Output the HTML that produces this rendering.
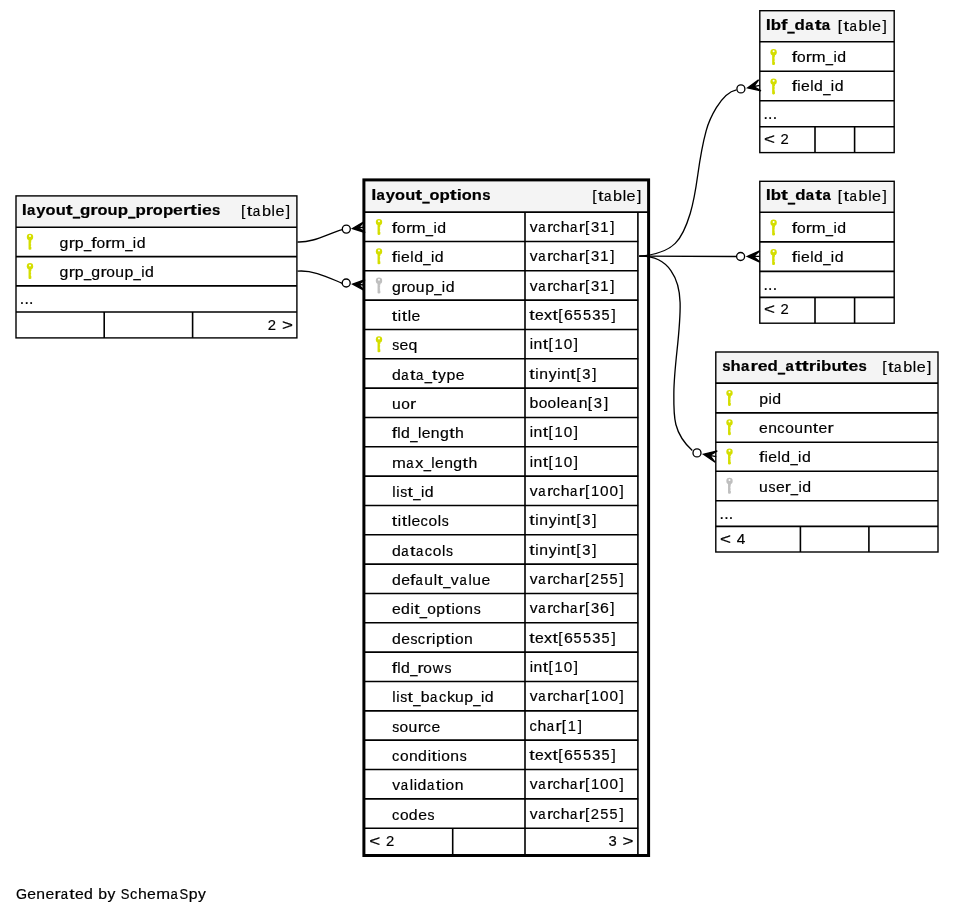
<!DOCTYPE html>
<html><head><meta charset="utf-8"><title>layout_options</title><style>
html,body{margin:0;padding:0;background:#fff;}
svg{display:block;will-change:transform;}
.b text{font-weight:bold;}
text{stroke:#000;stroke-width:0.18px;font-family:"Liberation Sans",sans-serif;font-size:14.9px;fill:#000;}
</style></head><body>
<svg width="954" height="914" viewBox="0 0 954 914">
<rect width="954" height="914" fill="#fff"/>
<rect x="16.00" y="195.90" width="280.90" height="31.30" fill="#f4f4f4" stroke="none" stroke-width="1"/>
<line x1="16.00" y1="227.20" x2="296.90" y2="227.20" stroke="#000" stroke-width="1.6"/>
<line x1="16.00" y1="256.60" x2="296.90" y2="256.60" stroke="#000" stroke-width="1.6"/>
<line x1="16.00" y1="285.90" x2="296.90" y2="285.90" stroke="#000" stroke-width="1.6"/>
<line x1="16.00" y1="312.00" x2="296.90" y2="312.00" stroke="#000" stroke-width="1.6"/>
<line x1="104.20" y1="312.00" x2="104.20" y2="337.90" stroke="#000" stroke-width="1.6"/>
<line x1="192.60" y1="312.00" x2="192.60" y2="337.90" stroke="#000" stroke-width="1.6"/>
<rect x="16.00" y="195.90" width="280.90" height="142.00" fill="none" stroke="#000" stroke-width="1.4"/>
<g class="b"><text transform="matrix(1.238,0,0,1.024,21.78,215.00)">l</text><text transform="matrix(1.008,0,0,1.024,27.00,215.00)">a</text><text transform="matrix(1.113,0,0,1.024,36.19,215.00)">y</text><text transform="matrix(1.097,0,0,1.024,45.57,215.00)">o</text><text transform="matrix(1.106,0,0,1.024,55.64,215.00)">u</text><text transform="matrix(1.392,0,0,1.024,65.78,215.00)">t</text><text transform="matrix(0.845,0,0,2.367,72.88,214.11)">_</text><text transform="matrix(1.134,0,0,1.024,79.96,215.00)">g</text><text transform="matrix(1.281,0,0,1.024,90.32,215.00)">r</text><text transform="matrix(1.097,0,0,1.024,97.49,215.00)">o</text><text transform="matrix(1.106,0,0,1.024,107.56,215.00)">u</text><text transform="matrix(1.132,0,0,1.024,117.87,215.00)">p</text><text transform="matrix(0.845,0,0,2.367,128.25,214.11)">_</text><text transform="matrix(1.132,0,0,1.024,135.47,215.00)">p</text><text transform="matrix(1.281,0,0,1.024,145.69,215.00)">r</text><text transform="matrix(1.097,0,0,1.024,152.86,215.00)">o</text><text transform="matrix(1.132,0,0,1.024,162.93,215.00)">p</text><text transform="matrix(1.181,0,0,1.024,173.12,215.00)">e</text><text transform="matrix(1.281,0,0,1.024,182.97,215.00)">r</text><text transform="matrix(1.392,0,0,1.024,190.09,215.00)">t</text><text transform="matrix(1.238,0,0,1.024,197.00,215.00)">i</text><text transform="matrix(1.181,0,0,1.024,201.97,215.00)">e</text><text transform="matrix(1.004,0,0,1.024,212.08,215.00)">s</text></g>
<g><text transform="matrix(1.045,0,0,1.024,240.93,216.00)">[</text><text transform="matrix(1.341,0,0,1.024,246.69,216.00)">t</text><text transform="matrix(0.902,0,0,1.024,252.78,216.00)">a</text><text transform="matrix(1.092,0,0,1.024,261.92,216.00)">b</text><text transform="matrix(1.026,0,0,1.024,271.48,216.00)">l</text><text transform="matrix(1.084,0,0,1.024,275.39,216.00)">e</text><text transform="matrix(1.045,0,0,1.024,285.78,216.00)">]</text></g>
<g fill="#d4de00"><circle cx="30.00" cy="237.00" r="3.2"/><path d="M28.55,238.80 L31.35,238.80 L31.35,241.40 L30.65,242.10 L31.35,242.80 L30.65,243.50 L31.35,244.20 L30.65,244.90 L31.35,245.60 L30.65,246.30 L31.35,247.00 L31.35,249.20 L30.30,249.80 L29.40,249.80 L28.55,249.20 Z"/><circle cx="30.00" cy="236.10" r="1.0" fill="#fff"/></g>
<g><text transform="matrix(1.065,0,0,1.024,59.44,247.60)">g</text><text transform="matrix(1.255,0,0,1.024,68.65,247.60)">r</text><text transform="matrix(1.066,0,0,1.024,74.87,247.60)">p</text><text transform="matrix(0.874,0,0,1.078,83.89,247.85)">_</text><text transform="matrix(1.287,0,0,1.024,91.20,247.60)">f</text><text transform="matrix(1.042,0,0,1.024,96.43,247.60)">o</text><text transform="matrix(1.255,0,0,1.024,105.29,247.60)">r</text><text transform="matrix(1.116,0,0,1.024,111.18,247.60)">m</text><text transform="matrix(0.874,0,0,1.078,125.23,247.85)">_</text><text transform="matrix(1.002,0,0,1.024,132.86,247.60)">i</text><text transform="matrix(1.065,0,0,1.024,136.67,247.60)">d</text></g>
<g fill="#d4de00"><circle cx="30.00" cy="266.30" r="3.2"/><path d="M28.55,268.10 L31.35,268.10 L31.35,270.70 L30.65,271.40 L31.35,272.10 L30.65,272.80 L31.35,273.50 L30.65,274.20 L31.35,274.90 L30.65,275.60 L31.35,276.30 L31.35,278.50 L30.30,279.10 L29.40,279.10 L28.55,278.50 Z"/><circle cx="30.00" cy="265.40" r="1.0" fill="#fff"/></g>
<g><text transform="matrix(1.065,0,0,1.024,59.44,276.80)">g</text><text transform="matrix(1.255,0,0,1.024,68.65,276.80)">r</text><text transform="matrix(1.066,0,0,1.024,74.87,276.80)">p</text><text transform="matrix(0.874,0,0,1.078,83.89,277.05)">_</text><text transform="matrix(1.065,0,0,1.024,91.28,276.80)">g</text><text transform="matrix(1.255,0,0,1.024,100.49,276.80)">r</text><text transform="matrix(1.042,0,0,1.024,106.24,276.80)">o</text><text transform="matrix(1.056,0,0,1.024,115.24,276.80)">u</text><text transform="matrix(1.066,0,0,1.024,124.58,276.80)">p</text><text transform="matrix(0.874,0,0,1.078,133.59,277.05)">_</text><text transform="matrix(1.002,0,0,1.024,141.22,276.80)">i</text><text transform="matrix(1.065,0,0,1.024,145.04,276.80)">d</text></g>
<g><text transform="matrix(1.060,0,0,1.136,19.76,304.00)">.</text><text transform="matrix(1.060,0,0,1.136,24.40,304.00)">.</text><text transform="matrix(1.060,0,0,1.136,29.04,304.00)">.</text></g>
<g><text transform="matrix(0.996,0,0,1.039,267.71,329.70)">2</text><text transform="matrix(1.263,0,0,1.024,281.93,329.70)">&gt;</text></g>
<rect x="363.90" y="179.90" width="284.70" height="32.20" fill="#f4f4f4" stroke="none" stroke-width="1"/>
<line x1="363.90" y1="212.10" x2="648.60" y2="212.10" stroke="#000" stroke-width="1.6"/>
<line x1="363.90" y1="241.44" x2="638.20" y2="241.44" stroke="#000" stroke-width="1.6"/>
<line x1="363.90" y1="270.77" x2="638.20" y2="270.77" stroke="#000" stroke-width="1.6"/>
<line x1="363.90" y1="300.11" x2="638.20" y2="300.11" stroke="#000" stroke-width="1.6"/>
<line x1="363.90" y1="329.45" x2="638.20" y2="329.45" stroke="#000" stroke-width="1.6"/>
<line x1="363.90" y1="358.78" x2="638.20" y2="358.78" stroke="#000" stroke-width="1.6"/>
<line x1="363.90" y1="388.12" x2="638.20" y2="388.12" stroke="#000" stroke-width="1.6"/>
<line x1="363.90" y1="417.46" x2="638.20" y2="417.46" stroke="#000" stroke-width="1.6"/>
<line x1="363.90" y1="446.80" x2="638.20" y2="446.80" stroke="#000" stroke-width="1.6"/>
<line x1="363.90" y1="476.13" x2="638.20" y2="476.13" stroke="#000" stroke-width="1.6"/>
<line x1="363.90" y1="505.47" x2="638.20" y2="505.47" stroke="#000" stroke-width="1.6"/>
<line x1="363.90" y1="534.81" x2="638.20" y2="534.81" stroke="#000" stroke-width="1.6"/>
<line x1="363.90" y1="564.14" x2="638.20" y2="564.14" stroke="#000" stroke-width="1.6"/>
<line x1="363.90" y1="593.48" x2="638.20" y2="593.48" stroke="#000" stroke-width="1.6"/>
<line x1="363.90" y1="622.82" x2="638.20" y2="622.82" stroke="#000" stroke-width="1.6"/>
<line x1="363.90" y1="652.15" x2="638.20" y2="652.15" stroke="#000" stroke-width="1.6"/>
<line x1="363.90" y1="681.49" x2="638.20" y2="681.49" stroke="#000" stroke-width="1.6"/>
<line x1="363.90" y1="710.83" x2="638.20" y2="710.83" stroke="#000" stroke-width="1.6"/>
<line x1="363.90" y1="740.17" x2="638.20" y2="740.17" stroke="#000" stroke-width="1.6"/>
<line x1="363.90" y1="769.50" x2="638.20" y2="769.50" stroke="#000" stroke-width="1.6"/>
<line x1="363.90" y1="798.84" x2="638.20" y2="798.84" stroke="#000" stroke-width="1.6"/>
<line x1="363.90" y1="828.18" x2="638.20" y2="828.18" stroke="#000" stroke-width="1.6"/>
<line x1="525.00" y1="212.10" x2="525.00" y2="855.50" stroke="#000" stroke-width="1.6"/>
<line x1="452.70" y1="828.18" x2="452.70" y2="855.50" stroke="#000" stroke-width="1.6"/>
<line x1="637.90" y1="212.10" x2="637.90" y2="855.50" stroke="#000" stroke-width="1.6"/>
<rect x="363.90" y="179.90" width="284.70" height="675.60" fill="none" stroke="#000" stroke-width="3.0"/>
<g class="b"><text transform="matrix(1.238,0,0,1.024,371.31,200.00)">l</text><text transform="matrix(1.008,0,0,1.024,376.53,200.00)">a</text><text transform="matrix(1.113,0,0,1.024,385.72,200.00)">y</text><text transform="matrix(1.097,0,0,1.024,395.10,200.00)">o</text><text transform="matrix(1.106,0,0,1.024,405.17,200.00)">u</text><text transform="matrix(1.392,0,0,1.024,415.31,200.00)">t</text><text transform="matrix(0.845,0,0,2.367,422.41,199.11)">_</text><text transform="matrix(1.097,0,0,1.024,429.51,200.00)">o</text><text transform="matrix(1.132,0,0,1.024,439.58,200.00)">p</text><text transform="matrix(1.392,0,0,1.024,449.78,200.00)">t</text><text transform="matrix(1.238,0,0,1.024,456.69,200.00)">i</text><text transform="matrix(1.097,0,0,1.024,461.71,200.00)">o</text><text transform="matrix(1.106,0,0,1.024,471.81,200.00)">n</text><text transform="matrix(1.004,0,0,1.024,482.21,200.00)">s</text></g>
<g><text transform="matrix(1.045,0,0,1.024,592.13,201.20)">[</text><text transform="matrix(1.341,0,0,1.024,597.89,201.20)">t</text><text transform="matrix(0.902,0,0,1.024,603.98,201.20)">a</text><text transform="matrix(1.092,0,0,1.024,613.12,201.20)">b</text><text transform="matrix(1.026,0,0,1.024,622.68,201.20)">l</text><text transform="matrix(1.084,0,0,1.024,626.59,201.20)">e</text><text transform="matrix(1.045,0,0,1.024,636.98,201.20)">]</text></g>
<g fill="#d4de00"><circle cx="379.00" cy="222.10" r="3.2"/><path d="M377.55,223.90 L380.35,223.90 L380.35,226.50 L379.65,227.20 L380.35,227.90 L379.65,228.60 L380.35,229.30 L379.65,230.00 L380.35,230.70 L379.65,231.40 L380.35,232.10 L380.35,234.30 L379.30,234.90 L378.40,234.90 L377.55,234.30 Z"/><circle cx="379.00" cy="221.20" r="1.0" fill="#fff"/></g>
<g><text transform="matrix(1.287,0,0,1.024,391.83,232.90)">f</text><text transform="matrix(1.042,0,0,1.024,397.06,232.90)">o</text><text transform="matrix(1.255,0,0,1.024,405.93,232.90)">r</text><text transform="matrix(1.116,0,0,1.024,411.81,232.90)">m</text><text transform="matrix(0.874,0,0,1.078,425.87,233.15)">_</text><text transform="matrix(1.002,0,0,1.024,433.49,232.90)">i</text><text transform="matrix(1.065,0,0,1.024,437.31,232.90)">d</text></g>
<g><text transform="matrix(1.057,0,0,1.024,529.63,231.90)">v</text><text transform="matrix(0.881,0,0,1.024,538.21,231.90)">a</text><text transform="matrix(1.255,0,0,1.024,546.92,231.90)">r</text><text transform="matrix(0.983,0,0,1.024,552.70,231.90)">c</text><text transform="matrix(1.064,0,0,1.024,560.77,231.90)">h</text><text transform="matrix(0.881,0,0,1.024,570.12,231.90)">a</text><text transform="matrix(1.255,0,0,1.024,578.83,231.90)">r</text><text transform="matrix(1.021,0,0,1.024,584.92,231.90)">[</text><text transform="matrix(0.992,0,0,1.039,590.99,231.90)">3</text><text transform="matrix(0.987,0,0,1.039,600.22,231.90)">1</text><text transform="matrix(1.021,0,0,1.024,610.32,231.90)">]</text></g>
<g fill="#d4de00"><circle cx="379.00" cy="251.44" r="3.2"/><path d="M377.55,253.24 L380.35,253.24 L380.35,255.84 L379.65,256.54 L380.35,257.24 L379.65,257.94 L380.35,258.64 L379.65,259.34 L380.35,260.04 L379.65,260.74 L380.35,261.44 L380.35,263.64 L379.30,264.24 L378.40,264.24 L377.55,263.64 Z"/><circle cx="379.00" cy="250.54" r="1.0" fill="#fff"/></g>
<g><text transform="matrix(1.287,0,0,1.024,391.83,262.24)">f</text><text transform="matrix(1.002,0,0,1.024,397.29,262.24)">i</text><text transform="matrix(1.058,0,0,1.024,401.10,262.24)">e</text><text transform="matrix(1.002,0,0,1.024,410.32,262.24)">l</text><text transform="matrix(1.065,0,0,1.024,414.14,262.24)">d</text><text transform="matrix(0.874,0,0,1.078,423.33,262.49)">_</text><text transform="matrix(1.002,0,0,1.024,430.95,262.24)">i</text><text transform="matrix(1.065,0,0,1.024,434.77,262.24)">d</text></g>
<g><text transform="matrix(1.057,0,0,1.024,529.63,261.24)">v</text><text transform="matrix(0.881,0,0,1.024,538.21,261.24)">a</text><text transform="matrix(1.255,0,0,1.024,546.92,261.24)">r</text><text transform="matrix(0.983,0,0,1.024,552.70,261.24)">c</text><text transform="matrix(1.064,0,0,1.024,560.77,261.24)">h</text><text transform="matrix(0.881,0,0,1.024,570.12,261.24)">a</text><text transform="matrix(1.255,0,0,1.024,578.83,261.24)">r</text><text transform="matrix(1.021,0,0,1.024,584.92,261.24)">[</text><text transform="matrix(0.992,0,0,1.039,590.99,261.24)">3</text><text transform="matrix(0.987,0,0,1.039,600.22,261.24)">1</text><text transform="matrix(1.021,0,0,1.024,610.32,261.24)">]</text></g>
<g fill="#bfbfbf"><circle cx="379.00" cy="280.77" r="3.2"/><path d="M377.55,282.57 L380.35,282.57 L380.35,285.17 L379.65,285.87 L380.35,286.57 L379.65,287.27 L380.35,287.97 L379.65,288.67 L380.35,289.37 L379.65,290.07 L380.35,290.77 L380.35,292.97 L379.30,293.57 L378.40,293.57 L377.55,292.97 Z"/><circle cx="379.00" cy="279.87" r="1.0" fill="#fff"/></g>
<g><text transform="matrix(1.065,0,0,1.024,391.91,291.57)">g</text><text transform="matrix(1.255,0,0,1.024,401.12,291.57)">r</text><text transform="matrix(1.042,0,0,1.024,406.87,291.57)">o</text><text transform="matrix(1.056,0,0,1.024,415.87,291.57)">u</text><text transform="matrix(1.066,0,0,1.024,425.21,291.57)">p</text><text transform="matrix(0.874,0,0,1.078,434.23,291.83)">_</text><text transform="matrix(1.002,0,0,1.024,441.85,291.57)">i</text><text transform="matrix(1.065,0,0,1.024,445.67,291.57)">d</text></g>
<g><text transform="matrix(1.057,0,0,1.024,529.63,290.57)">v</text><text transform="matrix(0.881,0,0,1.024,538.21,290.57)">a</text><text transform="matrix(1.255,0,0,1.024,546.92,290.57)">r</text><text transform="matrix(0.983,0,0,1.024,552.70,290.57)">c</text><text transform="matrix(1.064,0,0,1.024,560.77,290.57)">h</text><text transform="matrix(0.881,0,0,1.024,570.12,290.57)">a</text><text transform="matrix(1.255,0,0,1.024,578.83,290.57)">r</text><text transform="matrix(1.021,0,0,1.024,584.92,290.57)">[</text><text transform="matrix(0.992,0,0,1.039,590.99,290.57)">3</text><text transform="matrix(0.987,0,0,1.039,600.22,290.57)">1</text><text transform="matrix(1.021,0,0,1.024,610.32,290.57)">]</text></g>
<g><text transform="matrix(1.310,0,0,1.024,391.87,320.91)">t</text><text transform="matrix(1.002,0,0,1.024,397.87,320.91)">i</text><text transform="matrix(1.310,0,0,1.024,401.65,320.91)">t</text><text transform="matrix(1.002,0,0,1.024,407.65,320.91)">l</text><text transform="matrix(1.058,0,0,1.024,411.47,320.91)">e</text></g>
<g><text transform="matrix(1.310,0,0,1.024,529.35,319.91)">t</text><text transform="matrix(1.058,0,0,1.024,535.11,319.91)">e</text><text transform="matrix(1.087,0,0,1.024,543.94,319.91)">x</text><text transform="matrix(1.310,0,0,1.024,552.44,319.91)">t</text><text transform="matrix(1.021,0,0,1.024,558.24,319.91)">[</text><text transform="matrix(1.069,0,0,1.039,563.97,319.91)">6</text><text transform="matrix(0.975,0,0,1.039,573.59,319.91)">5</text><text transform="matrix(0.975,0,0,1.039,582.88,319.91)">5</text><text transform="matrix(0.992,0,0,1.039,592.18,319.91)">3</text><text transform="matrix(0.975,0,0,1.039,601.46,319.91)">5</text><text transform="matrix(1.021,0,0,1.024,611.51,319.91)">]</text></g>
<g fill="#d4de00"><circle cx="379.00" cy="339.45" r="3.2"/><path d="M377.55,341.25 L380.35,341.25 L380.35,343.85 L379.65,344.55 L380.35,345.25 L379.65,345.95 L380.35,346.65 L379.65,347.35 L380.35,348.05 L379.65,348.75 L380.35,349.45 L380.35,351.65 L379.30,352.25 L378.40,352.25 L377.55,351.65 Z"/><circle cx="379.00" cy="338.55" r="1.0" fill="#fff"/></g>
<g><text transform="matrix(0.939,0,0,1.024,392.17,350.25)">s</text><text transform="matrix(1.058,0,0,1.024,399.51,350.25)">e</text><text transform="matrix(1.064,0,0,1.024,408.50,350.25)">q</text></g>
<g><text transform="matrix(1.002,0,0,1.024,529.63,349.25)">i</text><text transform="matrix(1.056,0,0,1.024,533.59,349.25)">n</text><text transform="matrix(1.310,0,0,1.024,542.66,349.25)">t</text><text transform="matrix(1.021,0,0,1.024,548.45,349.25)">[</text><text transform="matrix(0.987,0,0,1.039,554.46,349.25)">1</text><text transform="matrix(1.033,0,0,1.039,563.63,349.25)">0</text><text transform="matrix(1.021,0,0,1.024,573.86,349.25)">]</text></g>
<g><text transform="matrix(1.065,0,0,1.024,391.91,379.58)">d</text><text transform="matrix(0.881,0,0,1.024,401.36,379.58)">a</text><text transform="matrix(1.310,0,0,1.024,410.08,379.58)">t</text><text transform="matrix(0.881,0,0,1.024,416.03,379.58)">a</text><text transform="matrix(0.874,0,0,1.078,424.71,379.84)">_</text><text transform="matrix(1.310,0,0,1.024,432.05,379.58)">t</text><text transform="matrix(1.052,0,0,1.024,438.08,379.58)">y</text><text transform="matrix(1.066,0,0,1.024,446.62,379.58)">p</text><text transform="matrix(1.058,0,0,1.024,455.72,379.58)">e</text></g>
<g><text transform="matrix(1.310,0,0,1.024,529.35,378.58)">t</text><text transform="matrix(1.002,0,0,1.024,535.35,378.58)">i</text><text transform="matrix(1.056,0,0,1.024,539.31,378.58)">n</text><text transform="matrix(1.052,0,0,1.024,548.68,378.58)">y</text><text transform="matrix(1.002,0,0,1.024,557.30,378.58)">i</text><text transform="matrix(1.056,0,0,1.024,561.26,378.58)">n</text><text transform="matrix(1.310,0,0,1.024,570.33,378.58)">t</text><text transform="matrix(1.021,0,0,1.024,576.13,378.58)">[</text><text transform="matrix(0.992,0,0,1.039,582.20,378.58)">3</text><text transform="matrix(1.021,0,0,1.024,592.24,378.58)">]</text></g>
<g><text transform="matrix(1.056,0,0,1.024,391.99,408.92)">u</text><text transform="matrix(1.042,0,0,1.024,401.18,408.92)">o</text><text transform="matrix(1.255,0,0,1.024,410.04,408.92)">r</text></g>
<g><text transform="matrix(1.066,0,0,1.024,529.55,407.92)">b</text><text transform="matrix(1.042,0,0,1.024,538.67,407.92)">o</text><text transform="matrix(1.042,0,0,1.024,547.60,407.92)">o</text><text transform="matrix(1.002,0,0,1.024,556.75,407.92)">l</text><text transform="matrix(1.058,0,0,1.024,560.57,407.92)">e</text><text transform="matrix(0.881,0,0,1.024,569.74,407.92)">a</text><text transform="matrix(1.056,0,0,1.024,578.65,407.92)">n</text><text transform="matrix(1.021,0,0,1.024,587.79,407.92)">[</text><text transform="matrix(0.992,0,0,1.039,593.87,407.92)">3</text><text transform="matrix(1.021,0,0,1.024,603.91,407.92)">]</text></g>
<g><text transform="matrix(1.287,0,0,1.024,391.83,438.26)">f</text><text transform="matrix(1.002,0,0,1.024,397.28,438.26)">l</text><text transform="matrix(1.065,0,0,1.024,401.11,438.26)">d</text><text transform="matrix(0.874,0,0,1.078,410.29,438.51)">_</text><text transform="matrix(1.002,0,0,1.024,417.90,438.26)">l</text><text transform="matrix(1.058,0,0,1.024,421.73,438.26)">e</text><text transform="matrix(1.056,0,0,1.024,430.85,438.26)">n</text><text transform="matrix(1.065,0,0,1.024,439.97,438.26)">g</text><text transform="matrix(1.310,0,0,1.024,449.19,438.26)">t</text><text transform="matrix(1.064,0,0,1.024,455.05,438.26)">h</text></g>
<g><text transform="matrix(1.002,0,0,1.024,529.63,437.26)">i</text><text transform="matrix(1.056,0,0,1.024,533.59,437.26)">n</text><text transform="matrix(1.310,0,0,1.024,542.66,437.26)">t</text><text transform="matrix(1.021,0,0,1.024,548.45,437.26)">[</text><text transform="matrix(0.987,0,0,1.039,554.46,437.26)">1</text><text transform="matrix(1.033,0,0,1.039,563.63,437.26)">0</text><text transform="matrix(1.021,0,0,1.024,573.86,437.26)">]</text></g>
<g><text transform="matrix(1.116,0,0,1.024,391.99,467.60)">m</text><text transform="matrix(0.881,0,0,1.024,406.31,467.60)">a</text><text transform="matrix(1.087,0,0,1.024,415.18,467.60)">x</text><text transform="matrix(0.874,0,0,1.078,423.63,467.85)">_</text><text transform="matrix(1.002,0,0,1.024,431.25,467.60)">l</text><text transform="matrix(1.058,0,0,1.024,435.07,467.60)">e</text><text transform="matrix(1.056,0,0,1.024,444.20,467.60)">n</text><text transform="matrix(1.065,0,0,1.024,453.31,467.60)">g</text><text transform="matrix(1.310,0,0,1.024,462.54,467.60)">t</text><text transform="matrix(1.064,0,0,1.024,468.39,467.60)">h</text></g>
<g><text transform="matrix(1.002,0,0,1.024,529.63,466.60)">i</text><text transform="matrix(1.056,0,0,1.024,533.59,466.60)">n</text><text transform="matrix(1.310,0,0,1.024,542.66,466.60)">t</text><text transform="matrix(1.021,0,0,1.024,548.45,466.60)">[</text><text transform="matrix(0.987,0,0,1.039,554.46,466.60)">1</text><text transform="matrix(1.033,0,0,1.039,563.63,466.60)">0</text><text transform="matrix(1.021,0,0,1.024,573.86,466.60)">]</text></g>
<g><text transform="matrix(1.002,0,0,1.024,392.14,496.93)">l</text><text transform="matrix(1.002,0,0,1.024,396.20,496.93)">i</text><text transform="matrix(0.939,0,0,1.024,400.28,496.93)">s</text><text transform="matrix(1.310,0,0,1.024,407.59,496.93)">t</text><text transform="matrix(0.874,0,0,1.078,413.27,497.18)">_</text><text transform="matrix(1.002,0,0,1.024,420.89,496.93)">i</text><text transform="matrix(1.065,0,0,1.024,424.71,496.93)">d</text></g>
<g><text transform="matrix(1.057,0,0,1.024,529.63,495.93)">v</text><text transform="matrix(0.881,0,0,1.024,538.21,495.93)">a</text><text transform="matrix(1.255,0,0,1.024,546.92,495.93)">r</text><text transform="matrix(0.983,0,0,1.024,552.70,495.93)">c</text><text transform="matrix(1.064,0,0,1.024,560.77,495.93)">h</text><text transform="matrix(0.881,0,0,1.024,570.12,495.93)">a</text><text transform="matrix(1.255,0,0,1.024,578.83,495.93)">r</text><text transform="matrix(1.021,0,0,1.024,584.92,495.93)">[</text><text transform="matrix(0.987,0,0,1.039,590.93,495.93)">1</text><text transform="matrix(1.033,0,0,1.039,600.09,495.93)">0</text><text transform="matrix(1.033,0,0,1.039,609.38,495.93)">0</text><text transform="matrix(1.021,0,0,1.024,619.61,495.93)">]</text></g>
<g><text transform="matrix(1.310,0,0,1.024,391.87,526.27)">t</text><text transform="matrix(1.002,0,0,1.024,397.87,526.27)">i</text><text transform="matrix(1.310,0,0,1.024,401.65,526.27)">t</text><text transform="matrix(1.002,0,0,1.024,407.65,526.27)">l</text><text transform="matrix(1.058,0,0,1.024,411.47,526.27)">e</text><text transform="matrix(0.983,0,0,1.024,420.50,526.27)">c</text><text transform="matrix(1.042,0,0,1.024,428.50,526.27)">o</text><text transform="matrix(1.002,0,0,1.024,437.64,526.27)">l</text><text transform="matrix(0.939,0,0,1.024,441.73,526.27)">s</text></g>
<g><text transform="matrix(1.310,0,0,1.024,529.35,525.27)">t</text><text transform="matrix(1.002,0,0,1.024,535.35,525.27)">i</text><text transform="matrix(1.056,0,0,1.024,539.31,525.27)">n</text><text transform="matrix(1.052,0,0,1.024,548.68,525.27)">y</text><text transform="matrix(1.002,0,0,1.024,557.30,525.27)">i</text><text transform="matrix(1.056,0,0,1.024,561.26,525.27)">n</text><text transform="matrix(1.310,0,0,1.024,570.33,525.27)">t</text><text transform="matrix(1.021,0,0,1.024,576.13,525.27)">[</text><text transform="matrix(0.992,0,0,1.039,582.20,525.27)">3</text><text transform="matrix(1.021,0,0,1.024,592.24,525.27)">]</text></g>
<g><text transform="matrix(1.065,0,0,1.024,391.91,555.61)">d</text><text transform="matrix(0.881,0,0,1.024,401.36,555.61)">a</text><text transform="matrix(1.310,0,0,1.024,410.08,555.61)">t</text><text transform="matrix(0.881,0,0,1.024,416.03,555.61)">a</text><text transform="matrix(0.983,0,0,1.024,424.84,555.61)">c</text><text transform="matrix(1.042,0,0,1.024,432.84,555.61)">o</text><text transform="matrix(1.002,0,0,1.024,441.99,555.61)">l</text><text transform="matrix(0.939,0,0,1.024,446.07,555.61)">s</text></g>
<g><text transform="matrix(1.310,0,0,1.024,529.35,554.61)">t</text><text transform="matrix(1.002,0,0,1.024,535.35,554.61)">i</text><text transform="matrix(1.056,0,0,1.024,539.31,554.61)">n</text><text transform="matrix(1.052,0,0,1.024,548.68,554.61)">y</text><text transform="matrix(1.002,0,0,1.024,557.30,554.61)">i</text><text transform="matrix(1.056,0,0,1.024,561.26,554.61)">n</text><text transform="matrix(1.310,0,0,1.024,570.33,554.61)">t</text><text transform="matrix(1.021,0,0,1.024,576.13,554.61)">[</text><text transform="matrix(0.992,0,0,1.039,582.20,554.61)">3</text><text transform="matrix(1.021,0,0,1.024,592.24,554.61)">]</text></g>
<g><text transform="matrix(1.065,0,0,1.024,391.91,584.94)">d</text><text transform="matrix(1.058,0,0,1.024,401.17,584.94)">e</text><text transform="matrix(1.287,0,0,1.024,410.08,584.94)">f</text><text transform="matrix(0.881,0,0,1.024,415.48,584.94)">a</text><text transform="matrix(1.056,0,0,1.024,424.32,584.94)">u</text><text transform="matrix(1.002,0,0,1.024,433.73,584.94)">l</text><text transform="matrix(1.310,0,0,1.024,437.51,584.94)">t</text><text transform="matrix(0.874,0,0,1.078,443.20,585.20)">_</text><text transform="matrix(1.057,0,0,1.024,450.82,584.94)">v</text><text transform="matrix(0.881,0,0,1.024,459.40,584.94)">a</text><text transform="matrix(1.002,0,0,1.024,468.40,584.94)">l</text><text transform="matrix(1.056,0,0,1.024,472.30,584.94)">u</text><text transform="matrix(1.058,0,0,1.024,481.47,584.94)">e</text></g>
<g><text transform="matrix(1.057,0,0,1.024,529.63,583.94)">v</text><text transform="matrix(0.881,0,0,1.024,538.21,583.94)">a</text><text transform="matrix(1.255,0,0,1.024,546.92,583.94)">r</text><text transform="matrix(0.983,0,0,1.024,552.70,583.94)">c</text><text transform="matrix(1.064,0,0,1.024,560.77,583.94)">h</text><text transform="matrix(0.881,0,0,1.024,570.12,583.94)">a</text><text transform="matrix(1.255,0,0,1.024,578.83,583.94)">r</text><text transform="matrix(1.021,0,0,1.024,584.92,583.94)">[</text><text transform="matrix(0.996,0,0,1.039,590.77,583.94)">2</text><text transform="matrix(0.975,0,0,1.039,600.28,583.94)">5</text><text transform="matrix(0.975,0,0,1.039,609.57,583.94)">5</text><text transform="matrix(1.021,0,0,1.024,619.61,583.94)">]</text></g>
<g><text transform="matrix(1.058,0,0,1.024,391.91,614.28)">e</text><text transform="matrix(1.065,0,0,1.024,400.89,614.28)">d</text><text transform="matrix(1.002,0,0,1.024,410.40,614.28)">i</text><text transform="matrix(1.310,0,0,1.024,414.17,614.28)">t</text><text transform="matrix(0.874,0,0,1.078,419.86,614.53)">_</text><text transform="matrix(1.042,0,0,1.024,427.25,614.28)">o</text><text transform="matrix(1.066,0,0,1.024,436.34,614.28)">p</text><text transform="matrix(1.310,0,0,1.024,445.40,614.28)">t</text><text transform="matrix(1.002,0,0,1.024,451.40,614.28)">i</text><text transform="matrix(1.042,0,0,1.024,455.24,614.28)">o</text><text transform="matrix(1.056,0,0,1.024,464.30,614.28)">n</text><text transform="matrix(0.939,0,0,1.024,473.67,614.28)">s</text></g>
<g><text transform="matrix(1.057,0,0,1.024,529.63,613.28)">v</text><text transform="matrix(0.881,0,0,1.024,538.21,613.28)">a</text><text transform="matrix(1.255,0,0,1.024,546.92,613.28)">r</text><text transform="matrix(0.983,0,0,1.024,552.70,613.28)">c</text><text transform="matrix(1.064,0,0,1.024,560.77,613.28)">h</text><text transform="matrix(0.881,0,0,1.024,570.12,613.28)">a</text><text transform="matrix(1.255,0,0,1.024,578.83,613.28)">r</text><text transform="matrix(1.021,0,0,1.024,584.92,613.28)">[</text><text transform="matrix(0.992,0,0,1.039,590.99,613.28)">3</text><text transform="matrix(1.069,0,0,1.039,599.94,613.28)">6</text><text transform="matrix(1.021,0,0,1.024,610.32,613.28)">]</text></g>
<g><text transform="matrix(1.065,0,0,1.024,391.91,643.62)">d</text><text transform="matrix(1.058,0,0,1.024,401.17,643.62)">e</text><text transform="matrix(0.939,0,0,1.024,410.42,643.62)">s</text><text transform="matrix(0.983,0,0,1.024,417.81,643.62)">c</text><text transform="matrix(1.255,0,0,1.024,425.74,643.62)">r</text><text transform="matrix(1.002,0,0,1.024,432.03,643.62)">i</text><text transform="matrix(1.066,0,0,1.024,436.01,643.62)">p</text><text transform="matrix(1.310,0,0,1.024,445.08,643.62)">t</text><text transform="matrix(1.002,0,0,1.024,451.08,643.62)">i</text><text transform="matrix(1.042,0,0,1.024,454.91,643.62)">o</text><text transform="matrix(1.056,0,0,1.024,463.97,643.62)">n</text></g>
<g><text transform="matrix(1.310,0,0,1.024,529.35,642.62)">t</text><text transform="matrix(1.058,0,0,1.024,535.11,642.62)">e</text><text transform="matrix(1.087,0,0,1.024,543.94,642.62)">x</text><text transform="matrix(1.310,0,0,1.024,552.44,642.62)">t</text><text transform="matrix(1.021,0,0,1.024,558.24,642.62)">[</text><text transform="matrix(1.069,0,0,1.039,563.97,642.62)">6</text><text transform="matrix(0.975,0,0,1.039,573.59,642.62)">5</text><text transform="matrix(0.975,0,0,1.039,582.88,642.62)">5</text><text transform="matrix(0.992,0,0,1.039,592.18,642.62)">3</text><text transform="matrix(0.975,0,0,1.039,601.46,642.62)">5</text><text transform="matrix(1.021,0,0,1.024,611.51,642.62)">]</text></g>
<g><text transform="matrix(1.287,0,0,1.024,391.83,672.95)">f</text><text transform="matrix(1.002,0,0,1.024,397.28,672.95)">l</text><text transform="matrix(1.065,0,0,1.024,401.11,672.95)">d</text><text transform="matrix(0.874,0,0,1.078,410.29,673.21)">_</text><text transform="matrix(1.255,0,0,1.024,417.62,672.95)">r</text><text transform="matrix(1.042,0,0,1.024,423.37,672.95)">o</text><text transform="matrix(0.990,0,0,1.024,432.78,672.95)">w</text><text transform="matrix(0.939,0,0,1.024,444.49,672.95)">s</text></g>
<g><text transform="matrix(1.002,0,0,1.024,529.63,671.95)">i</text><text transform="matrix(1.056,0,0,1.024,533.59,671.95)">n</text><text transform="matrix(1.310,0,0,1.024,542.66,671.95)">t</text><text transform="matrix(1.021,0,0,1.024,548.45,671.95)">[</text><text transform="matrix(0.987,0,0,1.039,554.46,671.95)">1</text><text transform="matrix(1.033,0,0,1.039,563.63,671.95)">0</text><text transform="matrix(1.021,0,0,1.024,573.86,671.95)">]</text></g>
<g><text transform="matrix(1.002,0,0,1.024,392.14,702.29)">l</text><text transform="matrix(1.002,0,0,1.024,396.20,702.29)">i</text><text transform="matrix(0.939,0,0,1.024,400.28,702.29)">s</text><text transform="matrix(1.310,0,0,1.024,407.59,702.29)">t</text><text transform="matrix(0.874,0,0,1.078,413.27,702.54)">_</text><text transform="matrix(1.066,0,0,1.024,420.82,702.29)">b</text><text transform="matrix(0.881,0,0,1.024,430.10,702.29)">a</text><text transform="matrix(0.983,0,0,1.024,438.91,702.29)">c</text><text transform="matrix(1.096,0,0,1.024,446.98,702.29)">k</text><text transform="matrix(1.056,0,0,1.024,454.98,702.29)">u</text><text transform="matrix(1.066,0,0,1.024,464.32,702.29)">p</text><text transform="matrix(0.874,0,0,1.078,473.34,702.54)">_</text><text transform="matrix(1.002,0,0,1.024,480.96,702.29)">i</text><text transform="matrix(1.065,0,0,1.024,484.78,702.29)">d</text></g>
<g><text transform="matrix(1.057,0,0,1.024,529.63,701.29)">v</text><text transform="matrix(0.881,0,0,1.024,538.21,701.29)">a</text><text transform="matrix(1.255,0,0,1.024,546.92,701.29)">r</text><text transform="matrix(0.983,0,0,1.024,552.70,701.29)">c</text><text transform="matrix(1.064,0,0,1.024,560.77,701.29)">h</text><text transform="matrix(0.881,0,0,1.024,570.12,701.29)">a</text><text transform="matrix(1.255,0,0,1.024,578.83,701.29)">r</text><text transform="matrix(1.021,0,0,1.024,584.92,701.29)">[</text><text transform="matrix(0.987,0,0,1.039,590.93,701.29)">1</text><text transform="matrix(1.033,0,0,1.039,600.09,701.29)">0</text><text transform="matrix(1.033,0,0,1.039,609.38,701.29)">0</text><text transform="matrix(1.021,0,0,1.024,619.61,701.29)">]</text></g>
<g><text transform="matrix(0.939,0,0,1.024,392.17,731.63)">s</text><text transform="matrix(1.042,0,0,1.024,399.53,731.63)">o</text><text transform="matrix(1.056,0,0,1.024,408.53,731.63)">u</text><text transform="matrix(1.255,0,0,1.024,417.65,731.63)">r</text><text transform="matrix(0.983,0,0,1.024,423.43,731.63)">c</text><text transform="matrix(1.058,0,0,1.024,431.41,731.63)">e</text></g>
<g><text transform="matrix(0.983,0,0,1.024,529.43,730.63)">c</text><text transform="matrix(1.064,0,0,1.024,537.50,730.63)">h</text><text transform="matrix(0.881,0,0,1.024,546.85,730.63)">a</text><text transform="matrix(1.255,0,0,1.024,555.56,730.63)">r</text><text transform="matrix(1.021,0,0,1.024,561.65,730.63)">[</text><text transform="matrix(0.987,0,0,1.039,567.66,730.63)">1</text><text transform="matrix(1.021,0,0,1.024,577.76,730.63)">]</text></g>
<g><text transform="matrix(0.983,0,0,1.024,391.95,760.97)">c</text><text transform="matrix(1.042,0,0,1.024,399.95,760.97)">o</text><text transform="matrix(1.056,0,0,1.024,409.01,760.97)">n</text><text transform="matrix(1.065,0,0,1.024,418.12,760.97)">d</text><text transform="matrix(1.002,0,0,1.024,427.63,760.97)">i</text><text transform="matrix(1.310,0,0,1.024,431.40,760.97)">t</text><text transform="matrix(1.002,0,0,1.024,437.41,760.97)">i</text><text transform="matrix(1.042,0,0,1.024,441.24,760.97)">o</text><text transform="matrix(1.056,0,0,1.024,450.30,760.97)">n</text><text transform="matrix(0.939,0,0,1.024,459.68,760.97)">s</text></g>
<g><text transform="matrix(1.310,0,0,1.024,529.35,759.97)">t</text><text transform="matrix(1.058,0,0,1.024,535.11,759.97)">e</text><text transform="matrix(1.087,0,0,1.024,543.94,759.97)">x</text><text transform="matrix(1.310,0,0,1.024,552.44,759.97)">t</text><text transform="matrix(1.021,0,0,1.024,558.24,759.97)">[</text><text transform="matrix(1.069,0,0,1.039,563.97,759.97)">6</text><text transform="matrix(0.975,0,0,1.039,573.59,759.97)">5</text><text transform="matrix(0.975,0,0,1.039,582.88,759.97)">5</text><text transform="matrix(0.992,0,0,1.039,592.18,759.97)">3</text><text transform="matrix(0.975,0,0,1.039,601.46,759.97)">5</text><text transform="matrix(1.021,0,0,1.024,611.51,759.97)">]</text></g>
<g><text transform="matrix(1.057,0,0,1.024,392.15,790.30)">v</text><text transform="matrix(0.881,0,0,1.024,400.73,790.30)">a</text><text transform="matrix(1.002,0,0,1.024,409.73,790.30)">l</text><text transform="matrix(1.002,0,0,1.024,413.79,790.30)">i</text><text transform="matrix(1.065,0,0,1.024,417.61,790.30)">d</text><text transform="matrix(0.881,0,0,1.024,427.06,790.30)">a</text><text transform="matrix(1.310,0,0,1.024,435.78,790.30)">t</text><text transform="matrix(1.002,0,0,1.024,441.79,790.30)">i</text><text transform="matrix(1.042,0,0,1.024,445.62,790.30)">o</text><text transform="matrix(1.056,0,0,1.024,454.68,790.30)">n</text></g>
<g><text transform="matrix(1.057,0,0,1.024,529.63,789.30)">v</text><text transform="matrix(0.881,0,0,1.024,538.21,789.30)">a</text><text transform="matrix(1.255,0,0,1.024,546.92,789.30)">r</text><text transform="matrix(0.983,0,0,1.024,552.70,789.30)">c</text><text transform="matrix(1.064,0,0,1.024,560.77,789.30)">h</text><text transform="matrix(0.881,0,0,1.024,570.12,789.30)">a</text><text transform="matrix(1.255,0,0,1.024,578.83,789.30)">r</text><text transform="matrix(1.021,0,0,1.024,584.92,789.30)">[</text><text transform="matrix(0.987,0,0,1.039,590.93,789.30)">1</text><text transform="matrix(1.033,0,0,1.039,600.09,789.30)">0</text><text transform="matrix(1.033,0,0,1.039,609.38,789.30)">0</text><text transform="matrix(1.021,0,0,1.024,619.61,789.30)">]</text></g>
<g><text transform="matrix(0.983,0,0,1.024,391.95,819.64)">c</text><text transform="matrix(1.042,0,0,1.024,399.95,819.64)">o</text><text transform="matrix(1.065,0,0,1.024,408.87,819.64)">d</text><text transform="matrix(1.058,0,0,1.024,418.13,819.64)">e</text><text transform="matrix(0.939,0,0,1.024,427.38,819.64)">s</text></g>
<g><text transform="matrix(1.057,0,0,1.024,529.63,818.64)">v</text><text transform="matrix(0.881,0,0,1.024,538.21,818.64)">a</text><text transform="matrix(1.255,0,0,1.024,546.92,818.64)">r</text><text transform="matrix(0.983,0,0,1.024,552.70,818.64)">c</text><text transform="matrix(1.064,0,0,1.024,560.77,818.64)">h</text><text transform="matrix(0.881,0,0,1.024,570.12,818.64)">a</text><text transform="matrix(1.255,0,0,1.024,578.83,818.64)">r</text><text transform="matrix(1.021,0,0,1.024,584.92,818.64)">[</text><text transform="matrix(0.996,0,0,1.039,590.77,818.64)">2</text><text transform="matrix(0.975,0,0,1.039,600.28,818.64)">5</text><text transform="matrix(0.975,0,0,1.039,609.57,818.64)">5</text><text transform="matrix(1.021,0,0,1.024,619.61,818.64)">]</text></g>
<g><text transform="matrix(1.263,0,0,1.024,369.37,846.00)">&lt;</text><text transform="matrix(0.996,0,0,1.039,385.95,846.00)">2</text></g>
<g><text transform="matrix(0.992,0,0,1.039,608.53,845.80)">3</text><text transform="matrix(1.263,0,0,1.024,622.53,845.80)">&gt;</text></g>
<rect x="759.80" y="10.70" width="134.40" height="31.00" fill="#f4f4f4" stroke="none" stroke-width="1"/>
<line x1="759.80" y1="41.70" x2="894.20" y2="41.70" stroke="#000" stroke-width="1.6"/>
<line x1="759.80" y1="71.30" x2="894.20" y2="71.30" stroke="#000" stroke-width="1.6"/>
<line x1="759.80" y1="100.80" x2="894.20" y2="100.80" stroke="#000" stroke-width="1.6"/>
<line x1="759.80" y1="126.80" x2="894.20" y2="126.80" stroke="#000" stroke-width="1.6"/>
<line x1="815.00" y1="126.80" x2="815.00" y2="152.60" stroke="#000" stroke-width="1.6"/>
<line x1="854.60" y1="126.80" x2="854.60" y2="152.60" stroke="#000" stroke-width="1.6"/>
<rect x="759.80" y="10.70" width="134.40" height="141.90" fill="none" stroke="#000" stroke-width="1.4"/>
<g class="b"><text transform="matrix(1.238,0,0,1.024,765.67,29.80)">l</text><text transform="matrix(1.132,0,0,1.024,770.81,29.80)">b</text><text transform="matrix(1.299,0,0,1.024,781.02,29.80)">f</text><text transform="matrix(0.845,0,0,2.367,787.50,28.91)">_</text><text transform="matrix(1.132,0,0,1.024,794.57,29.80)">d</text><text transform="matrix(1.008,0,0,1.024,805.16,29.80)">a</text><text transform="matrix(1.392,0,0,1.024,814.69,29.80)">t</text><text transform="matrix(1.008,0,0,1.024,821.85,29.80)">a</text></g>
<g><text transform="matrix(1.045,0,0,1.024,837.63,30.60)">[</text><text transform="matrix(1.341,0,0,1.024,843.39,30.60)">t</text><text transform="matrix(0.902,0,0,1.024,849.48,30.60)">a</text><text transform="matrix(1.092,0,0,1.024,858.62,30.60)">b</text><text transform="matrix(1.026,0,0,1.024,868.18,30.60)">l</text><text transform="matrix(1.084,0,0,1.024,872.09,30.60)">e</text><text transform="matrix(1.045,0,0,1.024,882.48,30.60)">]</text></g>
<g fill="#d4de00"><circle cx="773.60" cy="52.20" r="3.2"/><path d="M772.15,54.00 L774.95,54.00 L774.95,56.60 L774.25,57.30 L774.95,58.00 L774.25,58.70 L774.95,59.40 L774.25,60.10 L774.95,60.80 L774.25,61.50 L774.95,62.20 L774.95,64.40 L773.90,65.00 L773.00,65.00 L772.15,64.40 Z"/><circle cx="773.60" cy="51.30" r="1.0" fill="#fff"/></g>
<g><text transform="matrix(1.287,0,0,1.024,791.73,62.00)">f</text><text transform="matrix(1.042,0,0,1.024,796.96,62.00)">o</text><text transform="matrix(1.255,0,0,1.024,805.83,62.00)">r</text><text transform="matrix(1.116,0,0,1.024,811.71,62.00)">m</text><text transform="matrix(0.874,0,0,1.078,825.77,62.25)">_</text><text transform="matrix(1.002,0,0,1.024,833.39,62.00)">i</text><text transform="matrix(1.065,0,0,1.024,837.21,62.00)">d</text></g>
<g fill="#d4de00"><circle cx="773.60" cy="81.60" r="3.2"/><path d="M772.15,83.40 L774.95,83.40 L774.95,86.00 L774.25,86.70 L774.95,87.40 L774.25,88.10 L774.95,88.80 L774.25,89.50 L774.95,90.20 L774.25,90.90 L774.95,91.60 L774.95,93.80 L773.90,94.40 L773.00,94.40 L772.15,93.80 Z"/><circle cx="773.60" cy="80.70" r="1.0" fill="#fff"/></g>
<g><text transform="matrix(1.287,0,0,1.024,791.73,91.40)">f</text><text transform="matrix(1.002,0,0,1.024,797.19,91.40)">i</text><text transform="matrix(1.058,0,0,1.024,801.00,91.40)">e</text><text transform="matrix(1.002,0,0,1.024,810.22,91.40)">l</text><text transform="matrix(1.065,0,0,1.024,814.04,91.40)">d</text><text transform="matrix(0.874,0,0,1.078,823.23,91.65)">_</text><text transform="matrix(1.002,0,0,1.024,830.85,91.40)">i</text><text transform="matrix(1.065,0,0,1.024,834.67,91.40)">d</text></g>
<g><text transform="matrix(1.060,0,0,1.136,763.46,119.00)">.</text><text transform="matrix(1.060,0,0,1.136,768.10,119.00)">.</text><text transform="matrix(1.060,0,0,1.136,772.74,119.00)">.</text></g>
<g><text transform="matrix(1.263,0,0,1.024,763.97,143.50)">&lt;</text><text transform="matrix(0.996,0,0,1.039,780.55,143.50)">2</text></g>
<rect x="759.80" y="181.30" width="134.40" height="31.00" fill="#f4f4f4" stroke="none" stroke-width="1"/>
<line x1="759.80" y1="212.30" x2="894.20" y2="212.30" stroke="#000" stroke-width="1.6"/>
<line x1="759.80" y1="241.90" x2="894.20" y2="241.90" stroke="#000" stroke-width="1.6"/>
<line x1="759.80" y1="271.40" x2="894.20" y2="271.40" stroke="#000" stroke-width="1.6"/>
<line x1="759.80" y1="297.40" x2="894.20" y2="297.40" stroke="#000" stroke-width="1.6"/>
<line x1="815.00" y1="297.40" x2="815.00" y2="323.20" stroke="#000" stroke-width="1.6"/>
<line x1="854.60" y1="297.40" x2="854.60" y2="323.20" stroke="#000" stroke-width="1.6"/>
<rect x="759.80" y="181.30" width="134.40" height="141.90" fill="none" stroke="#000" stroke-width="1.4"/>
<g class="b"><text transform="matrix(1.238,0,0,1.024,765.67,200.40)">l</text><text transform="matrix(1.132,0,0,1.024,770.81,200.40)">b</text><text transform="matrix(1.392,0,0,1.024,781.01,200.40)">t</text><text transform="matrix(0.845,0,0,2.367,788.12,199.51)">_</text><text transform="matrix(1.132,0,0,1.024,795.19,200.40)">d</text><text transform="matrix(1.008,0,0,1.024,805.78,200.40)">a</text><text transform="matrix(1.392,0,0,1.024,815.31,200.40)">t</text><text transform="matrix(1.008,0,0,1.024,822.47,200.40)">a</text></g>
<g><text transform="matrix(1.045,0,0,1.024,837.63,201.20)">[</text><text transform="matrix(1.341,0,0,1.024,843.39,201.20)">t</text><text transform="matrix(0.902,0,0,1.024,849.48,201.20)">a</text><text transform="matrix(1.092,0,0,1.024,858.62,201.20)">b</text><text transform="matrix(1.026,0,0,1.024,868.18,201.20)">l</text><text transform="matrix(1.084,0,0,1.024,872.09,201.20)">e</text><text transform="matrix(1.045,0,0,1.024,882.48,201.20)">]</text></g>
<g fill="#d4de00"><circle cx="773.60" cy="222.80" r="3.2"/><path d="M772.15,224.60 L774.95,224.60 L774.95,227.20 L774.25,227.90 L774.95,228.60 L774.25,229.30 L774.95,230.00 L774.25,230.70 L774.95,231.40 L774.25,232.10 L774.95,232.80 L774.95,235.00 L773.90,235.60 L773.00,235.60 L772.15,235.00 Z"/><circle cx="773.60" cy="221.90" r="1.0" fill="#fff"/></g>
<g><text transform="matrix(1.287,0,0,1.024,791.73,232.60)">f</text><text transform="matrix(1.042,0,0,1.024,796.96,232.60)">o</text><text transform="matrix(1.255,0,0,1.024,805.83,232.60)">r</text><text transform="matrix(1.116,0,0,1.024,811.71,232.60)">m</text><text transform="matrix(0.874,0,0,1.078,825.77,232.85)">_</text><text transform="matrix(1.002,0,0,1.024,833.39,232.60)">i</text><text transform="matrix(1.065,0,0,1.024,837.21,232.60)">d</text></g>
<g fill="#d4de00"><circle cx="773.60" cy="252.20" r="3.2"/><path d="M772.15,254.00 L774.95,254.00 L774.95,256.60 L774.25,257.30 L774.95,258.00 L774.25,258.70 L774.95,259.40 L774.25,260.10 L774.95,260.80 L774.25,261.50 L774.95,262.20 L774.95,264.40 L773.90,265.00 L773.00,265.00 L772.15,264.40 Z"/><circle cx="773.60" cy="251.30" r="1.0" fill="#fff"/></g>
<g><text transform="matrix(1.287,0,0,1.024,791.73,262.00)">f</text><text transform="matrix(1.002,0,0,1.024,797.19,262.00)">i</text><text transform="matrix(1.058,0,0,1.024,801.00,262.00)">e</text><text transform="matrix(1.002,0,0,1.024,810.22,262.00)">l</text><text transform="matrix(1.065,0,0,1.024,814.04,262.00)">d</text><text transform="matrix(0.874,0,0,1.078,823.23,262.25)">_</text><text transform="matrix(1.002,0,0,1.024,830.85,262.00)">i</text><text transform="matrix(1.065,0,0,1.024,834.67,262.00)">d</text></g>
<g><text transform="matrix(1.060,0,0,1.136,763.46,289.60)">.</text><text transform="matrix(1.060,0,0,1.136,768.10,289.60)">.</text><text transform="matrix(1.060,0,0,1.136,772.74,289.60)">.</text></g>
<g><text transform="matrix(1.263,0,0,1.024,763.97,314.10)">&lt;</text><text transform="matrix(0.996,0,0,1.039,780.55,314.10)">2</text></g>
<rect x="715.80" y="352.00" width="222.20" height="31.10" fill="#f4f4f4" stroke="none" stroke-width="1"/>
<line x1="715.80" y1="383.10" x2="938.00" y2="383.10" stroke="#000" stroke-width="1.6"/>
<line x1="715.80" y1="412.90" x2="938.00" y2="412.90" stroke="#000" stroke-width="1.6"/>
<line x1="715.80" y1="442.20" x2="938.00" y2="442.20" stroke="#000" stroke-width="1.6"/>
<line x1="715.80" y1="471.30" x2="938.00" y2="471.30" stroke="#000" stroke-width="1.6"/>
<line x1="715.80" y1="500.70" x2="938.00" y2="500.70" stroke="#000" stroke-width="1.6"/>
<line x1="715.80" y1="526.40" x2="938.00" y2="526.40" stroke="#000" stroke-width="1.6"/>
<line x1="800.40" y1="526.40" x2="800.40" y2="552.00" stroke="#000" stroke-width="1.6"/>
<line x1="868.90" y1="526.40" x2="868.90" y2="552.00" stroke="#000" stroke-width="1.6"/>
<rect x="715.80" y="352.00" width="222.20" height="200.00" fill="none" stroke="#000" stroke-width="1.4"/>
<g class="b"><text transform="matrix(1.004,0,0,1.024,722.17,370.90)">s</text><text transform="matrix(1.115,0,0,1.024,730.62,370.90)">h</text><text transform="matrix(1.008,0,0,1.024,741.06,370.90)">a</text><text transform="matrix(1.281,0,0,1.024,750.61,370.90)">r</text><text transform="matrix(1.181,0,0,1.024,757.72,370.90)">e</text><text transform="matrix(1.132,0,0,1.024,767.57,370.90)">d</text><text transform="matrix(0.845,0,0,2.367,778.10,370.01)">_</text><text transform="matrix(1.008,0,0,1.024,785.40,370.90)">a</text><text transform="matrix(1.392,0,0,1.024,794.92,370.90)">t</text><text transform="matrix(1.392,0,0,1.024,801.85,370.90)">t</text><text transform="matrix(1.281,0,0,1.024,808.79,370.90)">r</text><text transform="matrix(1.238,0,0,1.024,815.90,370.90)">i</text><text transform="matrix(1.132,0,0,1.024,821.04,370.90)">b</text><text transform="matrix(1.106,0,0,1.024,831.41,370.90)">u</text><text transform="matrix(1.392,0,0,1.024,841.55,370.90)">t</text><text transform="matrix(1.181,0,0,1.024,848.47,370.90)">e</text><text transform="matrix(1.004,0,0,1.024,858.57,370.90)">s</text></g>
<g><text transform="matrix(1.045,0,0,1.024,882.23,372.00)">[</text><text transform="matrix(1.341,0,0,1.024,887.99,372.00)">t</text><text transform="matrix(0.902,0,0,1.024,894.08,372.00)">a</text><text transform="matrix(1.092,0,0,1.024,903.22,372.00)">b</text><text transform="matrix(1.026,0,0,1.024,912.78,372.00)">l</text><text transform="matrix(1.084,0,0,1.024,916.69,372.00)">e</text><text transform="matrix(1.045,0,0,1.024,927.08,372.00)">]</text></g>
<g fill="#d4de00"><circle cx="729.50" cy="393.10" r="3.2"/><path d="M728.05,394.90 L730.85,394.90 L730.85,397.50 L730.15,398.20 L730.85,398.90 L730.15,399.60 L730.85,400.30 L730.15,401.00 L730.85,401.70 L730.15,402.40 L730.85,403.10 L730.85,405.30 L729.80,405.90 L728.90,405.90 L728.05,405.30 Z"/><circle cx="729.50" cy="392.20" r="1.0" fill="#fff"/></g>
<g><text transform="matrix(1.066,0,0,1.024,759.20,403.60)">p</text><text transform="matrix(1.002,0,0,1.024,768.55,403.60)">i</text><text transform="matrix(1.065,0,0,1.024,772.36,403.60)">d</text></g>
<g fill="#d4de00"><circle cx="729.50" cy="422.40" r="3.2"/><path d="M728.05,424.20 L730.85,424.20 L730.85,426.80 L730.15,427.50 L730.85,428.20 L730.15,428.90 L730.85,429.60 L730.15,430.30 L730.85,431.00 L730.15,431.70 L730.85,432.40 L730.85,434.60 L729.80,435.20 L728.90,435.20 L728.05,434.60 Z"/><circle cx="729.50" cy="421.50" r="1.0" fill="#fff"/></g>
<g><text transform="matrix(1.058,0,0,1.024,759.04,432.90)">e</text><text transform="matrix(1.056,0,0,1.024,768.16,432.90)">n</text><text transform="matrix(0.983,0,0,1.024,777.32,432.90)">c</text><text transform="matrix(1.042,0,0,1.024,785.32,432.90)">o</text><text transform="matrix(1.056,0,0,1.024,794.31,432.90)">u</text><text transform="matrix(1.056,0,0,1.024,803.63,432.90)">n</text><text transform="matrix(1.310,0,0,1.024,812.70,432.90)">t</text><text transform="matrix(1.058,0,0,1.024,818.46,432.90)">e</text><text transform="matrix(1.255,0,0,1.024,827.39,432.90)">r</text></g>
<g fill="#d4de00"><circle cx="729.50" cy="451.70" r="3.2"/><path d="M728.05,453.50 L730.85,453.50 L730.85,456.10 L730.15,456.80 L730.85,457.50 L730.15,458.20 L730.85,458.90 L730.15,459.60 L730.85,460.30 L730.15,461.00 L730.85,461.70 L730.85,463.90 L729.80,464.50 L728.90,464.50 L728.05,463.90 Z"/><circle cx="729.50" cy="450.80" r="1.0" fill="#fff"/></g>
<g><text transform="matrix(1.287,0,0,1.024,758.96,462.20)">f</text><text transform="matrix(1.002,0,0,1.024,764.42,462.20)">i</text><text transform="matrix(1.058,0,0,1.024,768.23,462.20)">e</text><text transform="matrix(1.002,0,0,1.024,777.45,462.20)">l</text><text transform="matrix(1.065,0,0,1.024,781.27,462.20)">d</text><text transform="matrix(0.874,0,0,1.078,790.46,462.45)">_</text><text transform="matrix(1.002,0,0,1.024,798.08,462.20)">i</text><text transform="matrix(1.065,0,0,1.024,801.90,462.20)">d</text></g>
<g fill="#bfbfbf"><circle cx="729.50" cy="481.00" r="3.2"/><path d="M728.05,482.80 L730.85,482.80 L730.85,485.40 L730.15,486.10 L730.85,486.80 L730.15,487.50 L730.85,488.20 L730.15,488.90 L730.85,489.60 L730.15,490.30 L730.85,491.00 L730.85,493.20 L729.80,493.80 L728.90,493.80 L728.05,493.20 Z"/><circle cx="729.50" cy="480.10" r="1.0" fill="#fff"/></g>
<g><text transform="matrix(1.056,0,0,1.024,759.12,491.50)">u</text><text transform="matrix(0.939,0,0,1.024,768.56,491.50)">s</text><text transform="matrix(1.058,0,0,1.024,775.90,491.50)">e</text><text transform="matrix(1.255,0,0,1.024,784.83,491.50)">r</text><text transform="matrix(0.874,0,0,1.078,790.80,491.75)">_</text><text transform="matrix(1.002,0,0,1.024,798.42,491.50)">i</text><text transform="matrix(1.065,0,0,1.024,802.24,491.50)">d</text></g>
<g><text transform="matrix(1.060,0,0,1.136,719.56,518.50)">.</text><text transform="matrix(1.060,0,0,1.136,724.20,518.50)">.</text><text transform="matrix(1.060,0,0,1.136,728.84,518.50)">.</text></g>
<g><text transform="matrix(1.263,0,0,1.024,720.07,544.00)">&lt;</text><text transform="matrix(1.033,0,0,1.039,736.69,544.00)">4</text></g>
<g><text transform="matrix(0.956,0,0,1.024,15.88,898.50)">G</text><text transform="matrix(1.058,0,0,1.024,27.23,898.50)">e</text><text transform="matrix(1.056,0,0,1.024,36.36,898.50)">n</text><text transform="matrix(1.058,0,0,1.024,45.46,898.50)">e</text><text transform="matrix(1.255,0,0,1.024,54.40,898.50)">r</text><text transform="matrix(0.881,0,0,1.024,60.63,898.50)">a</text><text transform="matrix(1.310,0,0,1.024,69.36,898.50)">t</text><text transform="matrix(1.058,0,0,1.024,75.12,898.50)">e</text><text transform="matrix(1.065,0,0,1.024,84.11,898.50)">d</text><text transform="matrix(1.066,0,0,1.024,98.18,898.50)">b</text><text transform="matrix(1.052,0,0,1.024,107.54,898.50)">y</text><text transform="matrix(0.873,0,0,1.024,120.80,898.50)">S</text><text transform="matrix(0.983,0,0,1.024,129.88,898.50)">c</text><text transform="matrix(1.064,0,0,1.024,137.95,898.50)">h</text><text transform="matrix(1.058,0,0,1.024,147.11,898.50)">e</text><text transform="matrix(1.116,0,0,1.024,156.18,898.50)">m</text><text transform="matrix(0.881,0,0,1.024,170.50,898.50)">a</text><text transform="matrix(0.873,0,0,1.024,179.50,898.50)">S</text><text transform="matrix(1.066,0,0,1.024,188.69,898.50)">p</text><text transform="matrix(1.052,0,0,1.024,198.06,898.50)">y</text></g>
<path d="M297.50,242.00 C313.64,242.66 327.31,233.77 342.30,229.60" fill="none" stroke="#000" stroke-width="1.33"/>
<path d="M297.50,271.20 C313.36,269.79 328.01,277.42 342.20,283.30" fill="none" stroke="#000" stroke-width="1.33"/>
<path d="M639.20,256.20 C674.95,253.61 682.51,238.82 690.22,213.44 C698.30,186.88 697.09,163.91 706.20,130.66 C708.95,120.57 720.49,93.08 736.40,89.85" fill="none" stroke="#000" stroke-width="1.33"/>
<path d="M639.20,256.20 C669.67,254.98 679.58,280.19 680.11,302.68 C680.80,331.66 674.18,362.81 673.87,392.35 C673.61,416.21 672.79,432.53 692.30,450.60" fill="none" stroke="#000" stroke-width="1.33"/>
<path d="M639.2,256.2 L736.1,256.5" fill="none" stroke="#000" stroke-width="1.33"/>
<polygon points="352.50,228.50 365.13,232.50 358.50,227.80 364.50,227.10 358.50,227.80 363.87,221.70 352.50,228.50" fill="#000" stroke="#000" stroke-width="1.33"/>
<circle cx="346.30" cy="229.10" r="4.0" fill="none" stroke="#000" stroke-width="1.33"/>
<polygon points="352.70,284.10 364.20,290.36 358.65,284.55 364.60,285.00 358.65,284.55 365.00,279.64 352.70,284.10" fill="#000" stroke="#000" stroke-width="1.33"/>
<circle cx="346.20" cy="283.00" r="4.0" fill="none" stroke="#000" stroke-width="1.33"/>
<polygon points="747.60,87.90 760.97,90.79 753.70,86.60 759.80,85.30 753.70,86.60 758.63,79.81 747.60,87.90" fill="#000" stroke="#000" stroke-width="1.33"/>
<circle cx="740.90" cy="88.90" r="4.0" fill="none" stroke="#000" stroke-width="1.33"/>
<polygon points="747.30,256.40 759.80,262.02 753.55,256.40 759.80,256.40 753.55,256.40 759.80,250.77 747.30,256.40" fill="#000" stroke="#000" stroke-width="1.33"/>
<circle cx="740.60" cy="256.50" r="4.0" fill="none" stroke="#000" stroke-width="1.33"/>
<polygon points="703.50,454.30 715.17,462.32 709.85,455.45 716.20,456.60 709.85,455.45 717.24,450.88 703.50,454.30" fill="#000" stroke="#000" stroke-width="1.33"/>
<circle cx="697.00" cy="452.90" r="4.0" fill="none" stroke="#000" stroke-width="1.33"/>
</svg>
</body></html>
